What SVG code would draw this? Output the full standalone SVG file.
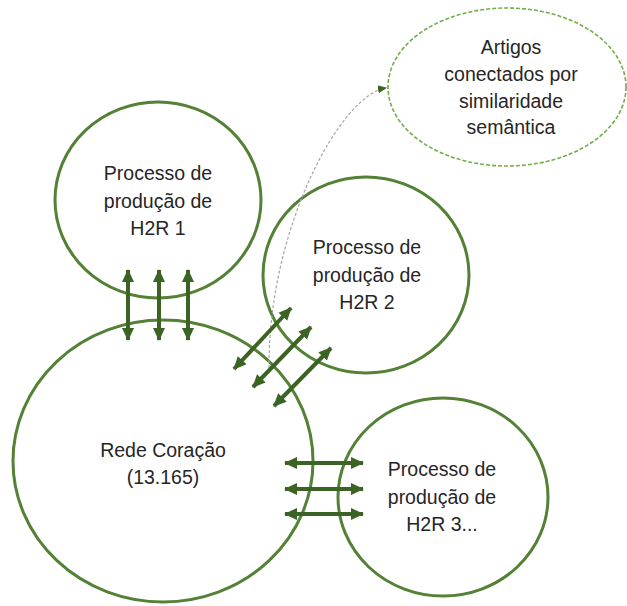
<svg xmlns="http://www.w3.org/2000/svg" width="627" height="606" viewBox="0 0 627 606">
  <style>
    .node { fill: none; stroke: #538135; stroke-width: 3; }
    .dash { fill: none; stroke: #70AD47; stroke-width: 1.6; stroke-dasharray: 4 2; }
    .lbl { font-family: "Liberation Sans", Arial, sans-serif; font-size: 19.5px; fill: #262626; text-anchor: middle; }
    .arr { stroke: #3B6323; stroke-width: 4; marker-start: url(#hs); marker-end: url(#he); }
    .link { fill: none; stroke: #A5A5A5; stroke-width: 1.2; stroke-dasharray: 3 2; }
  </style>
  <defs>
    <marker id="he" markerUnits="userSpaceOnUse" markerWidth="14" markerHeight="14" refX="12" refY="7" orient="auto">
      <path d="M0,1 L13,7 L0,13 Z" fill="#3B6323"/>
    </marker>
    <marker id="hs" markerUnits="userSpaceOnUse" markerWidth="14" markerHeight="14" refX="1" refY="7" orient="auto">
      <path d="M13,1 L0,7 L13,13 Z" fill="#3B6323"/>
    </marker>
    <marker id="ht" markerUnits="userSpaceOnUse" markerWidth="10" markerHeight="10" refX="8" refY="5" orient="auto">
      <path d="M0,1 L9,5 L0,9 Z" fill="#3B6323"/>
    </marker>
  </defs>

  <g id="h2r1">
    <ellipse class="node" cx="158" cy="200" rx="103" ry="98"/>
    <text class="lbl" x="158" y="180">Processo de</text>
    <text class="lbl" x="158" y="208">produção de</text>
    <text class="lbl" x="158" y="235">H2R 1</text>
  </g>

  <g id="h2r2">
    <ellipse class="node" cx="366" cy="275" rx="103" ry="98"/>
    <text class="lbl" x="367" y="254">Processo de</text>
    <text class="lbl" x="367" y="282">produção de</text>
    <text class="lbl" x="367" y="309">H2R 2</text>
  </g>

  <g id="rede">
    <ellipse class="node" cx="163" cy="461" rx="150" ry="141"/>
    <text class="lbl" x="163" y="457">Rede Coração</text>
    <text class="lbl" x="163" y="484">(13.165)</text>
  </g>

  <g id="h2r3">
    <ellipse class="node" cx="443" cy="497" rx="105" ry="99"/>
    <text class="lbl" x="442" y="476">Processo de</text>
    <text class="lbl" x="442" y="504">produção de</text>
    <text class="lbl" x="442" y="531">H2R 3...</text>
  </g>

  <g id="artigos">
    <ellipse class="dash" cx="507" cy="87" rx="119" ry="79"/>
    <text class="lbl" x="511" y="54">Artigos</text>
    <text class="lbl" x="511" y="81">conectados por</text>
    <text class="lbl" x="511" y="108">similaridade</text>
    <text class="lbl" x="511" y="134">semântica</text>
  </g>

  <g id="connectors">
    <path class="link" d="M269,368 C268,230 340,95 386,88" marker-end="url(#ht)"/>
    <line class="arr" x1="128" y1="270" x2="128" y2="340"/>
    <line class="arr" x1="159" y1="270" x2="159" y2="340"/>
    <line class="arr" x1="188" y1="270" x2="188" y2="340"/>
    <line class="arr" x1="234" y1="369" x2="291" y2="308"/>
    <line class="arr" x1="253" y1="387" x2="311" y2="327"/>
    <line class="arr" x1="274" y1="406" x2="331" y2="348"/>
    <line class="arr" x1="285" y1="463" x2="363" y2="463"/>
    <line class="arr" x1="285" y1="489" x2="363" y2="489"/>
    <line class="arr" x1="285" y1="514" x2="363" y2="514"/>
  </g>
</svg>
